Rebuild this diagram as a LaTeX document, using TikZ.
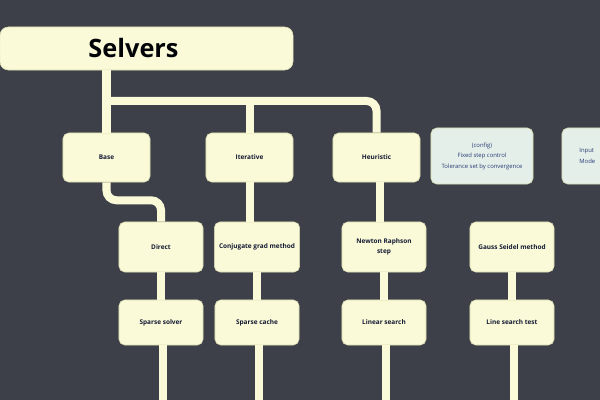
\documentclass[tikz,border=0pt]{standalone}
\usepackage{fontspec}
\setmainfont{Open Sans}
\usepackage{tikz}
\usetikzlibrary{positioning,calc}
\definecolor{bgdark}{HTML}{3D4049}
\definecolor{boxcream}{HTML}{FAFAD8}
\definecolor{boxmint}{HTML}{E3EFE8}
\definecolor{edgecream}{HTML}{D8DCB0}
\definecolor{inkdark}{HTML}{141A33}
\definecolor{inkblue}{HTML}{2B3C78}

\begin{document}
\begin{tikzpicture}[
    x=0.025cm, y=-0.025cm,
    box/.style={rectangle, draw=edgecream, line width=0.4pt, fill=boxcream, rounded corners=4pt, align=center, text=inkdark, font=\fontsize{4.6}{7}\selectfont\bfseries},
    topbox/.style={box, minimum width=2.175cm, minimum height=1.225cm},
    notebox/.style={box, fill=boxmint, text=inkblue, minimum width=2.55cm, minimum height=1.4cm, font=\fontsize{4.2}{7.5}\selectfont},
    subbox/.style={box, minimum width=2.1cm, minimum height=1.25cm},
    lowbox/.style={box, minimum width=2.1cm, minimum height=1.125cm},
    link/.style={draw=boxcream, line width=0.2cm}
]
    \fill[bgdark] (0,0) rectangle (600,400);
    \useasboundingbox (0,0) rectangle (600,400);
    \clip (0,0) rectangle (600,400);

    % title
    \node[box, minimum width=7.325cm, minimum height=1.075cm, rounded corners=6pt, text=black!85!inkdark, font=\fontsize{18}{20}\selectfont\bfseries] (title) at (146.5,48.5) {Selvers\hspace{0.65cm}};

    % first row
    \node[topbox] (base) at (106.5,157.5) {Base};
    \node[topbox] (iter) at (249.5,157.5) {Iterative};
    \node[topbox] (heur) at (376.5,157.5) {Heuristic};
    \node[notebox] (opts) at (482,156) {(config)\\Fixed step control\\Tolerance set by convergence};
    \node[notebox, align=left, text width=1.68cm] (pre) at (613,156) {Input\\Mode};

    % second row
    \node[subbox] (subA) at (161,247) {Direct};
    \node[subbox] (subB) at (257,247) {Conjugate grad method};
    \node[subbox] (subC) at (384,247) {Newton Raphson\\step};
    \node[subbox] (subD) at (512,247) {Gauss Seidel method};

    % third row
    \node[lowbox] (lowA) at (161,322.5) {Sparse solver};
    \node[lowbox] (lowB) at (257,322.5) {Sparse cache};
    \node[lowbox] (lowC) at (384,322.5) {Linear search};
    \node[lowbox] (lowD) at (512,322.5) {Line search test};

    \coordinate (bar) at (106.5,101);
    \coordinate (floor) at (0,405);

    % connectors
    \draw[link] (base.north |- title.south) -- (base.north);
    \draw[link, rounded corners=7pt] (bar) -| (heur.north);
    \draw[link] (bar -| iter.north) -- (iter.north);
    \draw[link, rounded corners=7pt] (base.south) -- ++(0,18) -| (subA.north);
    \draw[link] (iter.south) -- (iter.south |- subB.north);
    \draw[link] ($(heur.south)+(3,0)$) -- ($(heur.south |- subC.north)+(3,0)$);
    \draw[link] (subA) -- (lowA);
    \draw[link] (subB) -- (lowB);
    \draw[link] (subC) -- (lowC);
    \draw[link] (subD) -- (lowD);
    \foreach \n in {A,B,C,D}
        \draw[link] ($(low\n.south)+(2,0)$) -- ($(low\n.south |- floor)+(2,0)$);
\end{tikzpicture}
\end{document}
